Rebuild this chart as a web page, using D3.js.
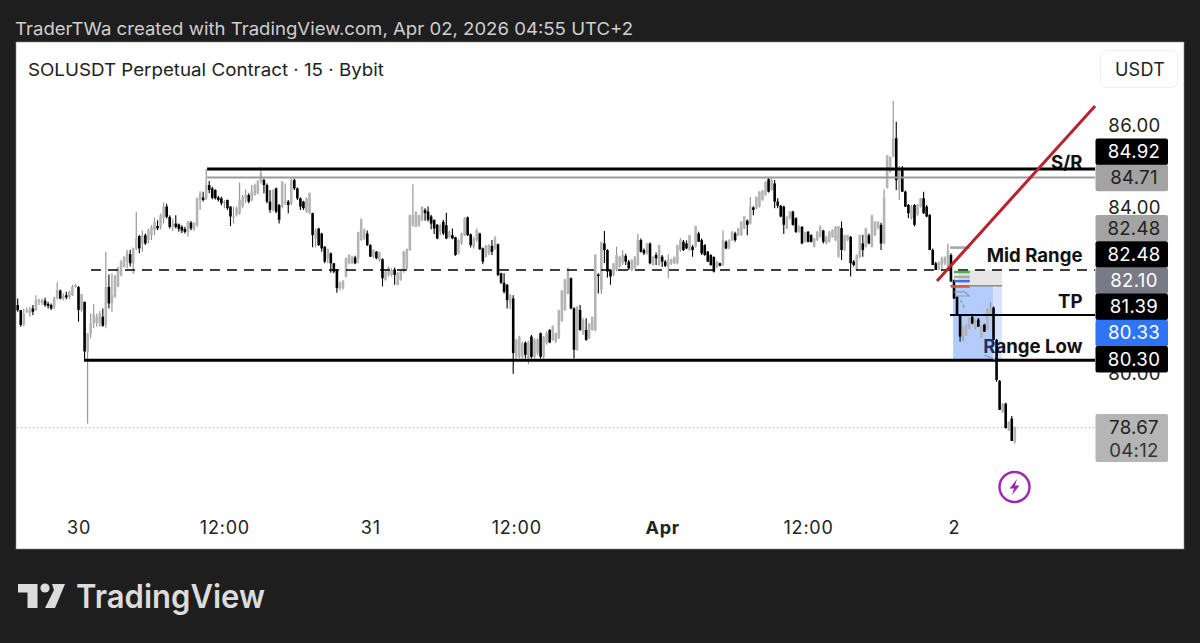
<!DOCTYPE html>
<html><head><meta charset="utf-8">
<style>html,body{margin:0;padding:0;background:#1e1e1e;overflow:hidden}svg{display:block}</style>
<script src="https://cdn.jsdelivr.net/npm/d3@7/dist/d3.min.js"></script></head>
<body><svg id="c" width="1200" height="643"></svg>
<script>
const opens=[81.63,81.51,81.15,81.47,81.43,81.55,81.51,81.71,81.69,81.74,
81.66,81.63,81.59,81.79,81.98,81.79,81.87,81.82,81.87,82.07,
82.07,81.51,81.71,80.51,80.95,81.19,81.19,81.19,81.35,81.15,
82.07,81.67,81.83,82.08,82.35,82.56,82.68,82.86,82.64,83.00,
83.30,83.12,83.32,83.20,83.32,83.44,83.54,83.52,83.73,84.01,
83.76,83.52,83.60,83.58,83.52,83.47,83.40,83.62,83.48,83.56,
84.17,84.23,84.21,84.53,84.45,84.41,84.23,84.21,84.09,84.17,
84.01,83.73,83.81,83.85,84.01,84.21,84.29,84.17,84.29,84.33,
84.61,84.65,84.53,84.13,83.93,84.45,84.05,84.01,84.09,84.13,
84.09,84.65,84.45,84.21,84.13,83.89,83.85,83.85,
83.24,83.48,83.36,83.04,82.76,82.88,82.64,82.48,82.04,82.04,
82.32,82.64,82.64,82.78,82.76,83.20,83.24,83.36,83.08,82.80,
82.92,82.72,82.74,82.24,82.36,82.36,82.49,82.12,82.24,82.44,
82.52,82.96,83.56,83.52,83.56,83.69,83.93,83.89,83.77,83.69,
83.57,83.40,83.64,83.56,83.27,83.32,83.27,82.88,83.12,83.32,
83.75,83.34,83.04,83.20,83.36,83.00,82.80,82.88,83.06,83.00,
83.10,82.40,82.17,82.12,81.67,81.79,80.38,80.38,80.38,80.72,
80.34,80.87,80.38,80.47,80.95,80.38,80.71,81.03,80.79,80.74,
80.83,81.25,81.51,81.91,82.28,81.55,80.55,81.51,80.95,81.03,
80.83,81.03,81.03,82.37,82.00,83.12,82.96,
82.48,82.36,82.48,82.56,82.64,82.82,82.68,82.48,82.52,82.60,
83.20,82.96,82.88,83.12,82.60,82.84,82.60,82.80,82.68,82.56,
82.64,82.64,82.64,82.96,83.16,83.12,82.96,83.04,83.04,83.36,
83.20,83.08,82.92,82.84,82.79,82.56,82.64,82.60,83.16,83.00,
83.20,83.36,83.32,83.32,83.48,83.67,83.60,83.99,83.97,84.01,
84.17,84.29,84.67,84.41,84.57,84.13,84.03,84.01,83.48,83.73,
83.89,83.73,83.40,83.52,83.16,83.40,83.32,83.04,83.20,83.28,
83.43,83.12,83.16,83.28,83.20,82.80,83.49,82.96,83.20,83.28,
82.68,82.48,82.80,83.12,83.04,83.32,83.04,83.32,83.48,83.57,
83.12,84.45,84.85,85.22,85.66,84.41,84.93,84.37,84.05,83.73,
84.05,83.81,84.01,84.21,84.01,83.81,82.96,82.64,
82.48,82.60,82.64,82.56,82.84,82.23,81.83,81.39,80.87,80.91,
81.07,81.35,81.07,81.28,80.87,81.16,81.04,81.43,81.57,80.79,
79.80,79.05,79.25,78.61,78.89,78.33];
const highs=[81.79,81.51,81.55,81.57,81.59,81.63,81.87,81.79,81.79,81.81,
81.71,81.67,81.83,82.18,82.01,81.91,81.95,81.98,82.12,82.14,
82.09,81.90,81.71,80.95,81.43,81.65,81.43,81.49,81.55,82.92,
82.37,82.40,82.35,82.56,82.72,82.81,82.97,82.97,83.02,83.88,
83.32,83.43,83.36,83.48,83.56,83.74,83.68,83.84,84.11,84.08,
83.80,83.72,83.80,83.60,83.56,83.52,83.66,83.66,83.64,84.23,
84.38,84.37,84.91,84.63,84.49,84.43,84.27,84.25,84.17,84.18,
84.02,84.01,84.01,84.59,84.29,84.43,84.33,84.53,84.57,84.65,
84.96,84.69,84.57,84.41,84.43,84.47,84.07,84.63,84.57,84.17,
84.69,84.69,84.47,84.23,84.15,84.23,84.35,83.86,
83.48,83.50,83.38,83.06,83.00,82.90,82.65,82.50,82.20,82.24,
82.78,82.86,82.82,82.82,83.40,83.72,83.48,83.43,83.10,82.98,
82.94,82.92,82.76,82.48,82.56,82.52,82.54,82.43,82.48,82.94,
83.00,83.82,84.55,83.90,83.81,84.02,83.97,84.01,83.81,83.70,
83.59,83.60,83.69,83.86,83.43,83.48,83.28,83.22,83.38,83.75,
83.77,83.36,83.28,83.48,83.38,83.02,83.08,83.10,83.20,83.30,
83.12,82.41,82.40,82.14,81.90,81.87,80.81,80.89,80.75,80.75,
80.77,80.91,80.83,80.83,80.97,80.89,80.99,81.05,81.14,80.97,
81.52,81.99,82.26,82.54,82.30,81.58,81.60,81.63,81.31,81.31,
81.19,81.35,82.85,82.40,83.16,83.42,82.98,
82.50,82.65,83.04,82.81,82.96,82.87,82.72,82.73,82.81,83.35,
83.24,83.00,83.13,83.14,82.81,82.90,83.08,82.84,82.72,82.86,
82.75,82.80,83.09,83.25,83.20,83.19,83.33,83.08,83.55,83.40,
83.24,83.10,82.94,82.86,82.81,82.70,82.66,83.43,83.19,83.22,
83.42,83.40,83.50,83.66,83.78,83.70,84.24,84.02,84.25,84.38,
84.40,84.62,84.71,84.71,84.65,84.21,84.05,84.03,83.77,83.90,
83.91,83.75,83.56,83.54,83.40,83.42,83.34,83.25,83.42,83.56,
83.45,83.30,83.42,83.46,83.54,83.54,83.65,83.33,83.33,83.30,
82.72,82.85,83.33,83.33,83.50,83.36,83.81,83.66,83.66,83.62,
84.43,85.25,85.22,86.56,86.06,84.99,84.99,84.40,84.07,84.05,
84.07,84.07,84.22,84.37,84.05,83.83,83.00,82.68,
82.68,82.80,82.80,83.12,82.88,82.25,81.85,81.41,81.12,81.17,
81.33,81.39,81.29,81.32,81.15,81.18,81.55,81.71,81.60,80.81,
79.82,79.26,79.27,78.82,78.95,78.70];
const lows=[81.47,81.11,81.12,81.44,81.35,81.39,81.49,81.63,81.63,81.59,
81.55,81.51,81.53,81.77,81.77,81.75,81.77,81.77,81.85,82.05,
81.23,81.47,80.30,78.77,80.83,81.08,81.11,81.11,81.11,81.07,
81.55,81.47,81.81,82.06,82.32,82.54,82.52,82.56,82.39,82.96,
82.88,82.92,83.08,83.12,83.20,83.32,83.44,83.46,83.60,83.72,
83.48,83.42,83.48,83.40,83.37,83.36,83.28,83.44,83.42,83.52,
83.93,84.13,84.17,84.33,84.19,84.18,84.13,84.04,83.97,83.93,
83.54,83.60,83.77,83.81,83.97,84.09,84.09,84.13,84.27,84.31,
84.57,84.33,84.09,83.86,83.89,83.85,83.60,83.97,84.05,83.85,
84.05,84.41,84.17,83.93,83.93,83.86,83.83,83.03,
83.03,83.06,82.92,82.64,82.64,82.41,82.40,81.93,81.99,82.01,
82.30,82.62,82.62,82.62,82.64,83.19,83.20,83.06,82.79,82.76,
82.74,82.68,82.08,82.22,82.32,82.32,82.12,82.11,82.22,82.41,
82.50,82.94,83.52,83.52,83.52,83.65,83.67,83.65,83.46,83.35,
83.22,83.32,83.32,83.22,83.24,83.22,82.82,82.86,83.08,83.30,
83.30,83.02,83.00,83.16,82.96,82.62,82.78,82.84,82.84,82.96,
82.33,82.14,81.91,81.55,81.53,79.97,80.34,80.34,80.34,80.34,
80.20,80.34,80.34,80.42,80.34,80.34,80.67,80.71,80.77,80.72,
80.81,81.23,81.49,81.89,81.53,80.34,80.53,81.01,80.91,80.77,
80.81,81.01,81.00,81.91,81.90,82.65,82.30,
82.12,82.33,82.45,82.54,82.60,82.60,82.48,82.45,82.50,82.58,
82.90,82.84,82.85,82.62,82.58,82.60,82.58,82.55,82.55,82.28,
82.60,82.62,82.62,82.92,82.94,82.98,82.94,82.80,83.02,83.16,
82.84,82.82,82.68,82.58,82.42,82.52,82.57,82.58,82.98,82.98,
83.18,83.16,83.30,83.30,83.46,83.32,83.58,83.80,83.95,83.99,
84.15,84.27,84.35,84.39,83.97,83.97,83.75,83.35,83.46,83.70,
83.55,83.37,83.38,83.10,83.14,83.14,83.14,83.02,83.18,83.26,
83.12,83.10,83.14,83.26,83.18,82.78,82.72,82.94,83.18,82.32,
82.56,82.46,82.76,82.80,83.02,83.10,83.02,83.30,83.46,82.96,
83.10,84.45,84.83,85.20,84.41,84.17,84.36,84.00,83.73,83.70,
83.53,83.79,83.99,83.83,83.75,82.96,82.60,82.48,
82.47,82.48,82.60,82.50,82.19,81.78,81.39,80.75,80.75,80.89,
81.05,81.17,81.05,81.10,80.85,80.98,81.02,81.41,80.78,79.78,
79.10,79.03,78.65,78.59,78.35,78.29];
const closes=[81.51,81.15,81.43,81.51,81.53,81.47,81.75,81.75,81.74,81.63,
81.61,81.55,81.81,81.99,81.79,81.85,81.82,81.95,82.07,82.12,
81.51,81.90,80.51,80.95,81.19,81.41,81.35,81.43,81.13,82.07,
81.67,81.87,82.35,82.52,82.68,82.80,82.92,82.64,83.00,83.24,
83.00,83.32,83.12,83.44,83.52,83.64,83.48,83.80,84.01,83.76,
83.52,83.60,83.52,83.47,83.43,83.40,83.64,83.48,83.60,84.21,
84.33,84.17,84.53,84.41,84.22,84.21,84.17,84.09,84.13,83.97,
83.77,83.77,83.97,84.17,84.25,84.29,84.13,84.37,84.53,84.61,
84.81,84.53,84.13,83.93,84.41,83.89,83.69,84.61,84.13,84.05,
84.65,84.45,84.21,84.01,83.97,84.21,84.33,83.32,
83.44,83.08,83.00,82.68,82.98,82.64,82.44,82.04,82.16,82.20,
82.76,82.84,82.78,82.64,83.39,83.70,83.44,83.08,82.80,82.96,
82.76,82.90,82.28,82.44,82.54,82.48,82.36,82.41,82.44,82.92,
82.98,83.80,83.80,83.88,83.80,84.00,83.85,83.69,83.60,83.48,
83.24,83.56,83.36,83.24,83.40,83.24,82.84,83.20,83.36,83.73,
83.32,83.08,83.24,83.44,82.98,82.68,83.06,83.08,82.92,83.24,
82.36,82.17,81.95,81.75,81.87,80.47,80.79,80.87,80.71,80.43,
80.74,80.38,80.80,80.80,80.38,80.87,80.95,80.73,81.12,80.95,
81.51,81.98,82.25,82.48,81.55,80.55,81.59,81.03,81.27,80.79,
81.19,81.35,82.85,82.33,83.15,82.96,82.44,
82.32,82.64,82.84,82.80,82.84,82.68,82.52,82.72,82.80,83.20,
82.92,82.88,83.12,82.64,82.80,82.76,83.08,82.68,82.58,82.72,
82.74,82.80,83.08,83.20,82.96,83.00,83.32,82.96,83.54,83.16,
82.88,82.84,82.68,82.60,82.44,82.68,82.58,83.20,83.00,83.20,
83.40,83.20,83.48,83.64,83.77,83.57,84.01,83.93,84.25,84.37,
84.40,84.61,84.37,84.65,84.13,84.03,83.77,83.57,83.77,83.89,
83.57,83.40,83.52,83.12,83.40,83.16,83.16,83.24,83.40,83.52,
83.16,83.28,83.40,83.44,83.52,83.54,82.96,83.32,83.32,82.64,
82.60,82.84,83.32,82.96,83.48,83.12,83.80,83.64,83.64,83.12,
84.22,85.25,85.21,85.66,84.65,84.89,84.37,84.01,83.85,84.01,
83.57,84.05,84.21,83.85,83.77,82.96,82.60,82.48,
82.68,82.76,82.80,82.95,82.20,81.79,81.40,80.87,81.11,81.15,
81.31,81.19,81.27,81.11,81.15,80.99,81.50,81.59,80.79,79.82,
79.10,79.25,78.66,78.81,78.35,78.67];

const yTicks=[86,84,80];
const xTickBars=[20,68,116,164,212,260,308];
const xTickLabels=["30","12:00","31","12:00","Apr","12:00","2"];
const levels=[{p:84.92,from:62.3,c:"#000",w:3},{p:84.71,from:62.3,c:"#9a9a9a",w:2},{p:80.30,from:21.8,c:"#000",w:3},{p:81.39,from:306.7,c:"#000",w:2}];
const midRange=82.48, midFrom=24.1, lastPrice=78.67, endBar=354.4;
const trend=[[302.4,82.21],[354.4,86.44]];
const upperLabels=[["84.92","#000","#fff"],["84.71","#a3a3a3","#222"]];
const lowerLabels=[["82.48","#a3a3a3","#222"],["82.48","#000","#fff"],["82.10","#787b86","#fff"],["81.39","#000","#fff"],["80.33","#2f74f5","#fff"],["80.30","#000","#fff"]];
const notes=[["S/R",84.92],["Mid Range",82.48],["TP",81.39],["Range Low",80.30]];
const stubs=[{p:83.02,c:"#a8a8a8",a:306.7},{p:82.43,c:"#4caf50",a:308},{p:82.31,c:"#a8a8a8",a:308},{p:82.21,c:"#3f6fd8",a:308},{p:82.08,c:"#d9534f",a:307}];

const svg=d3.select("#c");
const FF="'Inter','Roboto',sans-serif";
const x=d3.scaleLinear().domain([0,328]).range([17.7,1014.8]);
const y=d3.scaleLinear().domain([86,80]).range([124.2,372.6]);
const R=1095;

svg.append("rect").attr("width",1200).attr("height",643).attr("fill","#1e1e1e");
svg.append("rect").attr("x",16).attr("y",42).attr("width",1168).attr("height",507).attr("fill","#fff").attr("stroke","#8a8a8a").attr("stroke-width",.6);

svg.append("text").attr("x",15).attr("y",35).attr("fill","#cfcfcf").attr("font-family",FF).attr("font-size",17.6).attr("textLength",618).attr("lengthAdjust","spacingAndGlyphs").text("TraderTWa created with TradingView.com, Apr 02, 2026 04:55 UTC+2");
svg.append("text").attr("x",28).attr("y",76).attr("fill","#222").attr("font-family",FF).attr("font-size",17.4).attr("textLength",356).attr("lengthAdjust","spacingAndGlyphs").text("SOLUSDT Perpetual Contract · 15 · Bybit");

// USDT chip
svg.append("rect").attr("x",1100.5).attr("y",50.5).attr("width",77).attr("height",37).attr("rx",6).attr("fill","#fff").attr("stroke","#eeeeee");
svg.append("text").attr("x",1140).attr("y",75.5).attr("text-anchor","middle").attr("fill","#222").attr("font-family",FF).attr("font-size",18).attr("letter-spacing",.3).text("USDT");

// last price dotted
svg.append("line").attr("x1",17).attr("x2",R).attr("y1",y(lastPrice)).attr("y2",y(lastPrice)).attr("stroke","#a0a0a0").attr("stroke-dasharray","1 3");

// annotation text below blue box
svg.append("g").selectAll("text").data(notes).join("text")
 .attr("x",1082.5).attr("y",d=>y(d[1])-(d[0]==="S/R"?-0.5:7.5)).attr("text-anchor","end")
 .attr("font-family",FF).attr("font-weight",700).attr("font-size",18.6).attr("fill","#111").text(d=>d[0]);

// range boxes
svg.append("rect").attr("x",x(309.5)).attr("y",y(82.48)).attr("width",x(323.8)-x(309.5)).attr("height",y(82.10)-y(82.48)).attr("fill","#e6e6e6");
svg.append("rect").attr("x",x(307.7)).attr("y",y(82.10)).attr("width",x(323.8)-x(307.7)).attr("height",y(80.30)-y(82.10)).attr("fill","#2f74f5").attr("opacity",.2);
svg.append("rect").attr("x",x(307.7)).attr("y",y(82.10)).attr("width",x(320.8)-x(307.7)).attr("height",y(80.30)-y(82.10)).attr("fill","#2f74f5").attr("opacity",.2);
svg.append("line").attr("x1",x(306.7)).attr("x2",x(323.8)).attr("y1",y(82.10)).attr("y2",y(82.10)).attr("stroke","#8c8c8c").attr("stroke-width",1.5);

// candles
const idx=d3.range(closes.length);
const up=i=>closes[i]>=opens[i];
const g=svg.append("g");
g.selectAll("line").data(idx).join("line")
 .attr("x1",i=>x(i)).attr("x2",i=>x(i)).attr("y1",i=>y(highs[i])).attr("y2",i=>y(lows[i]))
 .attr("stroke",i=>up(i)?"#8f8f8f":"#000").attr("stroke-width",1.1);
g.selectAll("rect").data(idx).join("rect")
 .attr("x",i=>x(i)-1.3).attr("width",2.6)
 .attr("y",i=>y(Math.max(opens[i],closes[i])))
 .attr("height",i=>Math.max(1,Math.abs(y(opens[i])-y(closes[i]))))
 .attr("fill",i=>up(i)?"#b4b4b4":"#000");

// level lines
svg.append("g").selectAll("line").data(levels).join("line")
 .attr("x1",d=>x(d.from)).attr("x2",R).attr("y1",d=>y(d.p)).attr("y2",d=>y(d.p))
 .attr("stroke",d=>d.c).attr("stroke-width",d=>d.w);
svg.append("line").attr("x1",x(midFrom)).attr("x2",R).attr("y1",y(midRange)).attr("y2",y(midRange)).attr("stroke","#000").attr("stroke-width",1.6).attr("stroke-dasharray","10 7");

// short stubs
svg.append("g").selectAll("line").data(stubs).join("line")
 .attr("x1",d=>x(d.a)).attr("x2",x(313.2)).attr("y1",d=>y(d.p)).attr("y2",d=>y(d.p))
 .attr("stroke",d=>d.c).attr("stroke-width",2.6);

// small shapes in the short setup
svg.append("path").attr("fill","none").attr("stroke","#8a9bb5").attr("stroke-width",1.2)
 .attr("d",d3.line()([[x(308),y(81.95)],[x(311.5),y(81.95)],[x(313),y(81.85)],[x(308.5),y(81.85)]]));
svg.append("path").attr("fill","none").attr("stroke","#8a9bb5").attr("stroke-width",1.2)
 .attr("d",d3.line()([[x(318),y(80.42)],[x(321.5),y(80.32)]]));
svg.append("path").attr("fill","none").attr("stroke","#7f8fa8").attr("stroke-width",1.2).attr("stroke-dasharray","3 2")
 .attr("d",d3.line()([[x(310.2),y(81.75)],[x(311.5),y(81.55)]]));

// trend line
svg.append("line").attr("x1",x(trend[0][0])).attr("y1",y(trend[0][1])).attr("x2",x(trend[1][0])).attr("y2",y(trend[1][1])).attr("stroke","#b9222f").attr("stroke-width",3);

// axes
const yAxis=d3.axisRight(y).tickValues(yTicks).tickSize(0).tickFormat(d3.format(".2f"));
const ya=svg.append("g").attr("transform","translate(1103,1)").call(yAxis);
ya.select(".domain").remove();
ya.selectAll("text").attr("x",31.5).attr("text-anchor","middle").attr("font-family",FF).attr("font-size",18.6).attr("letter-spacing",.3).attr("fill","#222");

const xAxis=d3.axisBottom(x).tickValues(xTickBars).tickSize(0).tickFormat((d,i)=>xTickLabels[i]);
const xa=svg.append("g").attr("transform","translate(0,518.5)").call(xAxis);
xa.select(".domain").remove();
xa.selectAll("text").attr("font-family",FF).attr("font-size",18).attr("letter-spacing",.8).attr("fill","#222").attr("font-weight",(d,i)=>xTickLabels[i]==="Apr"?700:400);

// price labels
function stack(list,top){
 const h=26.2;
 const s=svg.append("g").selectAll("g").data(list).join("g").attr("transform",(d,i)=>`translate(1095.5,${top+i*h})`);
 s.append("rect").attr("width",72.5).attr("height",h+.3).attr("rx",2).attr("fill",d=>d[1]);
 s.append("text").attr("x",38.5).attr("y",h/2+6.6).attr("text-anchor","middle").attr("font-family",FF).attr("font-size",18.6).attr("letter-spacing",.3).attr("fill",d=>d[2]).text(d=>d[0]);
}
stack(upperLabels,138.5);
stack(lowerLabels,215);

svg.append("rect").attr("x",1095.5).attr("y",414).attr("width",72.5).attr("height",48).attr("rx",2).attr("fill","#b5b5b5");
svg.append("text").attr("x",1134).attr("y",433.5).attr("text-anchor","middle").attr("font-family",FF).attr("font-size",18.6).attr("letter-spacing",.3).attr("fill","#222").text(lastPrice.toFixed(2));
svg.append("text").attr("x",1134).attr("y",456.5).attr("text-anchor","middle").attr("font-family",FF).attr("font-size",18.6).attr("letter-spacing",.3).attr("fill","#333").text("04:12");

// lightning icon
const ic=svg.append("g").attr("transform","translate(1014.5,487)");
ic.append("circle").attr("r",15).attr("fill","#fff").attr("stroke","#9c27b0").attr("stroke-width",2.4);
ic.append("path").attr("d","M2.5,-8 L-5,1.5 L-0.5,1.5 L-2.5,8 L5,-1.5 L0.5,-1.5 Z").attr("fill","#9c27b0");

// footer logo
const lg=svg.append("g").attr("fill","#dcdcdc");
lg.append("path").attr("d","M18,584 H37.5 V608 H27.5 V592.5 H18 Z");
lg.append("circle").attr("cx",45).attr("cy",588).attr("r",4.6);
lg.append("path").attr("d","M52,584 H65 L55,608 H45 L54,590 Z");
lg.append("text").attr("x",76).attr("y",607.5).attr("font-family",FF).attr("font-weight",600).attr("font-size",32.5).attr("textLength",189).attr("lengthAdjust","spacingAndGlyphs").text("TradingView");
</script></body></html>
